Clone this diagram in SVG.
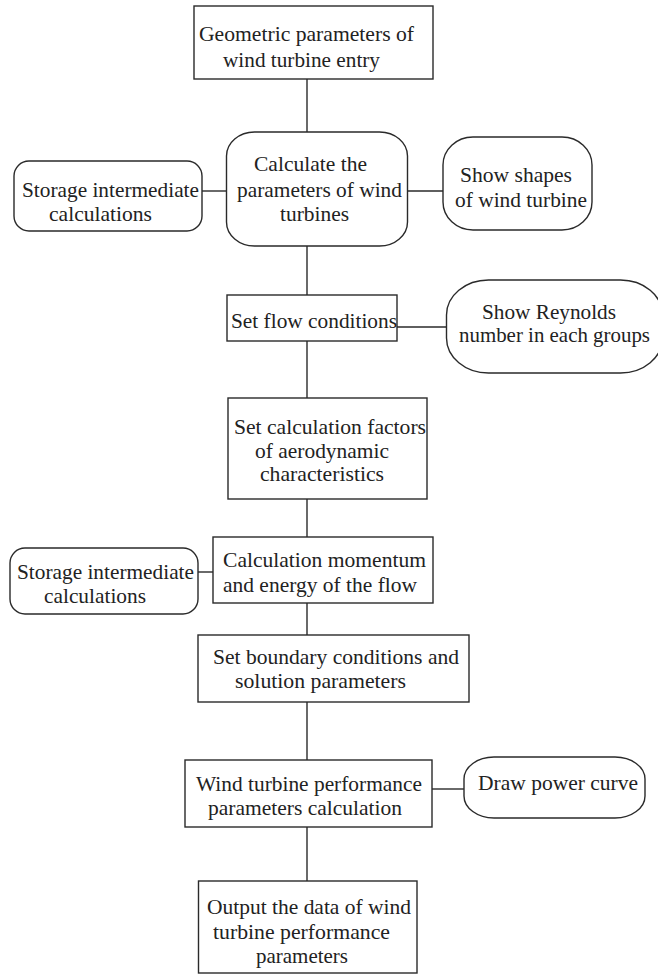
<svg xmlns="http://www.w3.org/2000/svg" width="658" height="974" viewBox="0 0 658 974">
<style>
.b{fill:#fff;stroke:#2a2a2a;stroke-width:1.4}
.c{stroke:#2a2a2a;stroke-width:1.4;fill:none}
text{font-family:"Liberation Serif","Times New Roman",serif;font-size:22px;fill:#222}
</style>
<rect width="658" height="974" fill="#fff"/>
<g id="connectors">
<line class="c" x1="307" y1="79" x2="307" y2="132"/>
<line class="c" x1="307" y1="246" x2="307" y2="295"/>
<line class="c" x1="307" y1="341" x2="307" y2="398"/>
<line class="c" x1="307" y1="499" x2="307" y2="537"/>
<line class="c" x1="307" y1="603" x2="307" y2="635"/>
<line class="c" x1="307" y1="702" x2="307" y2="760"/>
<line class="c" x1="307" y1="827" x2="307" y2="881"/>
<line class="c" x1="202" y1="191" x2="226.5" y2="191"/>
<line class="c" x1="407.5" y1="191" x2="443" y2="191"/>
<line class="c" x1="397" y1="327" x2="446.5" y2="327"/>
<line class="c" x1="198" y1="572" x2="213" y2="572"/>
<line class="c" x1="432" y1="789" x2="464" y2="789"/>
</g>
<g id="n1"><rect class="b" x="194" y="6" width="239" height="73"/>
<text x="199" y="41" textLength="215" lengthAdjust="spacingAndGlyphs">Geometric parameters of</text><text x="223" y="67" textLength="157" lengthAdjust="spacingAndGlyphs">wind turbine entry</text></g>
<g id="n2"><rect class="b" x="226.5" y="132" width="181" height="114" rx="28" ry="24"/>
<text x="254" y="170.5" textLength="113" lengthAdjust="spacingAndGlyphs">Calculate the</text><text x="237" y="197" textLength="165" lengthAdjust="spacingAndGlyphs">parameters of wind</text><text x="280" y="221" textLength="69" lengthAdjust="spacingAndGlyphs">turbines</text></g>
<g id="n3"><rect class="b" x="14" y="161" width="188" height="70" rx="15" ry="15"/>
<text x="22" y="197" textLength="177" lengthAdjust="spacingAndGlyphs">Storage intermediate</text><text x="49" y="221" textLength="103" lengthAdjust="spacingAndGlyphs">calculations</text></g>
<g id="n4"><rect class="b" x="443" y="137" width="149" height="93" rx="30" ry="28"/>
<text x="460" y="182" textLength="112" lengthAdjust="spacingAndGlyphs">Show shapes</text><text x="455" y="206.5" textLength="132" lengthAdjust="spacingAndGlyphs">of wind turbine</text></g>
<g id="n5"><rect class="b" x="227" y="295" width="170" height="46"/>
<text x="231" y="328" textLength="166" lengthAdjust="spacingAndGlyphs">Set flow conditions</text></g>
<g id="n6"><rect class="b" x="446.5" y="280" width="216" height="93" rx="42" ry="35"/>
<text x="482" y="318.5" textLength="134" lengthAdjust="spacingAndGlyphs">Show Reynolds</text><text x="459" y="342" textLength="191" lengthAdjust="spacingAndGlyphs">number in each groups</text></g>
<g id="n7"><rect class="b" x="228" y="398" width="199" height="101"/>
<text x="234" y="434" textLength="192" lengthAdjust="spacingAndGlyphs">Set calculation factors</text><text x="255" y="458" textLength="134" lengthAdjust="spacingAndGlyphs">of aerodynamic</text><text x="260" y="481" textLength="124" lengthAdjust="spacingAndGlyphs">characteristics</text></g>
<g id="n8"><rect class="b" x="213" y="537" width="220" height="66"/>
<text x="223" y="566.5" textLength="203" lengthAdjust="spacingAndGlyphs">Calculation momentum</text><text x="223" y="592" textLength="194" lengthAdjust="spacingAndGlyphs">and energy of the flow</text></g>
<g id="n9"><rect class="b" x="10" y="548" width="188" height="66" rx="15" ry="15"/>
<text x="17" y="579" textLength="177" lengthAdjust="spacingAndGlyphs">Storage intermediate</text><text x="44" y="603" textLength="102" lengthAdjust="spacingAndGlyphs">calculations</text></g>
<g id="n10"><rect class="b" x="198" y="635" width="271" height="67"/>
<text x="213" y="664" textLength="246" lengthAdjust="spacingAndGlyphs">Set boundary conditions and</text><text x="235" y="688" textLength="171" lengthAdjust="spacingAndGlyphs">solution parameters</text></g>
<g id="n11"><rect class="b" x="185" y="760" width="247" height="67"/>
<text x="196" y="790.5" textLength="226" lengthAdjust="spacingAndGlyphs">Wind turbine performance</text><text x="208" y="814.5" textLength="194" lengthAdjust="spacingAndGlyphs">parameters calculation</text></g>
<g id="n12"><rect class="b" x="464" y="757" width="181" height="61" rx="30" ry="22"/>
<text x="478" y="790" textLength="160" lengthAdjust="spacingAndGlyphs">Draw power curve</text></g>
<g id="n13"><rect class="b" x="198.5" y="881" width="218.5" height="92"/>
<text x="207" y="914" textLength="204" lengthAdjust="spacingAndGlyphs">Output the data of wind</text><text x="213" y="939" textLength="177" lengthAdjust="spacingAndGlyphs">turbine performance</text><text x="256" y="963" textLength="92" lengthAdjust="spacingAndGlyphs">parameters</text></g>
</svg>
